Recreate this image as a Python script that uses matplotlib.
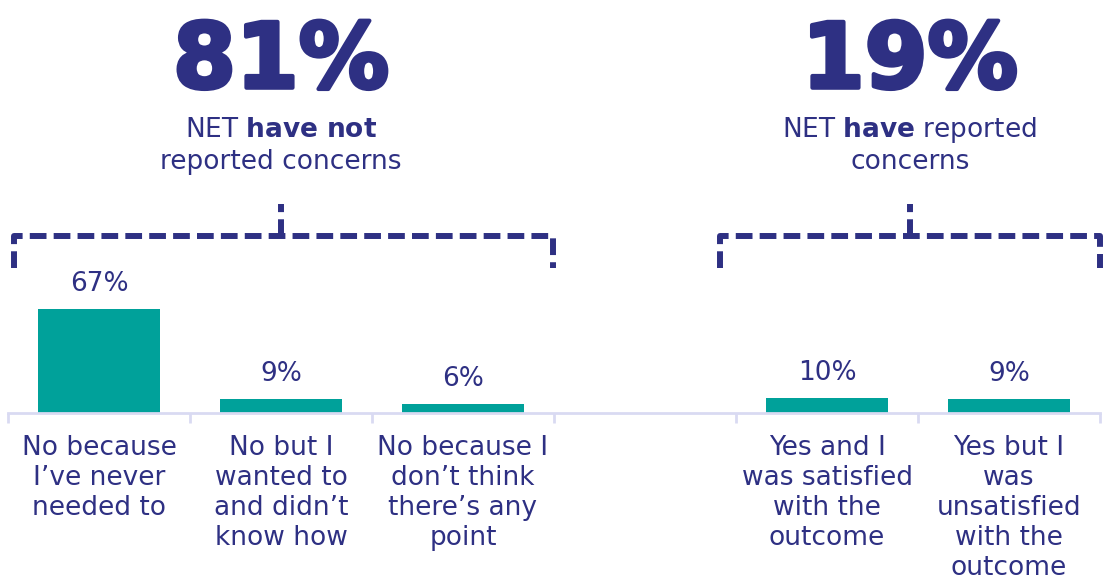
import matplotlib.pyplot as plt
import matplotlib.patheffects as pe
from matplotlib.transforms import offset_copy

# reporting of concerns, share of respondents (%)
categories = [
    "No because\nI\u2019ve never\nneeded to",
    "No but I\nwanted to\nand didn\u2019t\nknow how",
    "No because I\ndon\u2019t think\nthere\u2019s any\npoint",
    "",
    "Yes and I\nwas satisfied\nwith the\noutcome",
    "Yes but I\nwas\nunsatisfied\nwith the\noutcome",
]
values = [67, 9, 6, None, 10, 9]
net_values = [81, 19]
net_labels = [("NET ", "have not", "", "reported concerns"),
              ("NET ", "have", " reported", "concerns")]

NAVY = "#2e3083"
TEAL = "#00a19a"
AXIS = "#d9daf2"

plt.rcParams['font.family'] = ['DejaVu Sans']

fig = plt.figure(figsize=(11.04, 5.79), dpi=100)
ax = fig.add_axes([8 / 1104, (579 - 413) / 579, 1092 / 1104, 413 / 579])
ax.set_xlim(0, 6)
ax.set_ylim(0, 413 / 1.55)

for i, v in enumerate(values):
    if v is None:
        continue
    ax.bar(i + 0.5, v, width=0.665, color=TEAL)
    ax.text(i + 0.5, v, f"{v}%", ha='center', va='bottom', fontsize=19,
            color=NAVY, transform=offset_copy(ax.transData, fig, y=12, units='dots'))
    ax.text(i + 0.5, -14.5, categories[i], ha='center', va='top', fontsize=19,
            color=NAVY, linespacing=1.19, clip_on=False)

# axis line with slot separators
for s in ['top', 'left', 'right']:
    ax.spines[s].set_visible(False)
ax.spines['bottom'].set_color(AXIS)
ax.spines['bottom'].set_linewidth(2)
ax.set_xticks(range(7))
ax.set_xticklabels([])
ax.tick_params(axis='x', direction='out', length=7, width=2, color=AXIS)
ax.set_yticks([])

# dashed brackets grouping the two NET totals
brackets = [(0.033, 2.995, 1.5), (3.91, 6.0, 4.955)]
y_bar, y_end, y_top = 114, 93.5, 135
dash = dict(color=NAVY, linewidth=4.3, linestyle=(0, (2.8, 1.2)),
            dash_capstyle='butt', clip_on=False)
heavy = [pe.withStroke(linewidth=3, foreground=NAVY)]
for (x0, x1, xc), net, (pre, bold, post, line2) in zip(brackets, net_values, net_labels):
    ax.plot([x0, x0, x1, x1], [y_end, y_bar, y_bar, y_end], **dash)
    ax.plot([xc, xc], [y_bar, y_top], **dash)
    ax.text(xc, 226, f"{net}%", ha='center', va='center', fontsize=65,
            fontweight='heavy', color=NAVY, path_effects=heavy)
    # first subtitle line mixes regular and bold text
    ax.text(xc, 182.5, pre + r"$\bf{" + bold.replace(" ", r"\ ") + "}$" + post,
            ha='center', va='center', fontsize=19, color=NAVY)
    ax.text(xc, 162, line2, ha='center', va='center', fontsize=19, color=NAVY)

fig.savefig("out.png", dpi=100)
